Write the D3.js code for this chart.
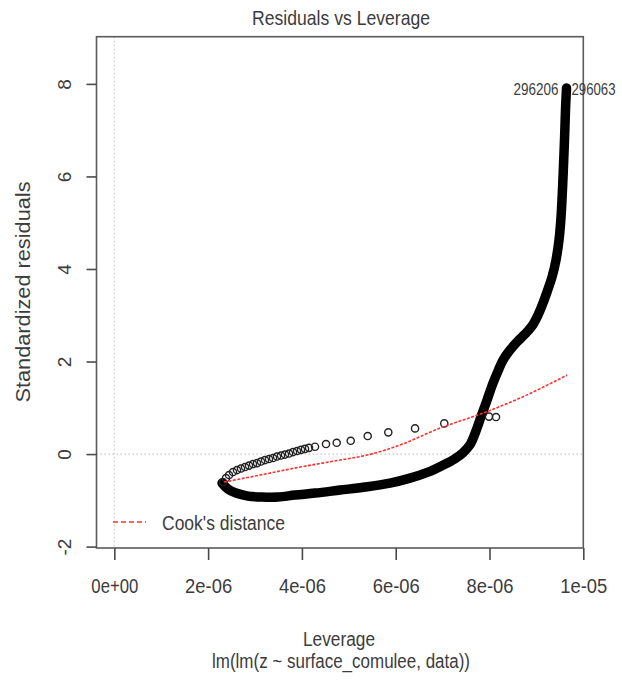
<!DOCTYPE html>
<html><head><meta charset="utf-8">
<script src="https://cdn.jsdelivr.net/npm/d3@7"></script>
<style>
body{margin:0;background:#fff}
text{font-family:"Liberation Sans",Arial,Helvetica,sans-serif;fill:#3c3c3c}
</style>
</head><body><svg id="c" width="622" height="682"></svg>
<script>
// ---- data (leverage in units of 1e-6) ----
const upperLev = [2.318,2.381,2.446,2.531,2.616,2.701,2.787,2.872,2.957,3.042,3.128,3.213,3.298,3.384,3.469,3.554,3.639,3.725,3.810,3.896,3.981,4.066,4.151,
                  4.279,4.514,4.742,5.041,5.403,5.842,6.412,7.036,7.989,8.139];
const upperRes = [-0.605,-0.519,-0.454,-0.389,-0.346,-0.313,-0.281,-0.249,-0.216,-0.195,-0.162,-0.130,-0.108,-0.086,-0.054,-0.032,-0.011,0.011,0.043,0.065,0.091,0.112,0.134,
                  0.158,0.216,0.244,0.287,0.389,0.469,0.555,0.663,0.810,0.800];
const lowerLev = [2.296,2.424,2.595,2.851,3.149,3.490,3.853,4.279,4.812,5.345,5.878,6.305,6.689,6.987,7.264,7.435,7.584,7.712,7.819,7.947,8.075,8.181,8.288,8.437,8.586,8.757,8.906,9.034,9.141,9.248,9.333,9.418,9.482,9.525,9.568,9.599,9.620,9.642];
const lowerRes = [-0.627,-0.756,-0.843,-0.908,-0.929,-0.929,-0.886,-0.843,-0.778,-0.713,-0.627,-0.519,-0.389,-0.250,-0.100,0.030,0.200,0.500,0.810,1.167,1.534,1.794,2.032,2.248,2.421,2.594,2.766,3.004,3.263,3.566,3.825,4.193,4.625,5.122,5.987,6.786,7.435,7.911];
const cookLev = [2.339,3.107,3.959,4.812,5.388,6.092,6.945,7.862,8.651,9.653];
const cookRes = [-0.605,-0.454,-0.281,-0.130,-0.022,0.195,0.562,0.886,1.210,1.707];
const xTicks = [0,2,4,6,8,10];
const xTickLabels = ["0e+00","2e-06","4e-06","6e-06","8e-06","1e-05"];
const yTicks = [-2,0,2,4,6,8];
const pointLabels = ["296206","296063"];
const labelLev = 9.642, labelRes = 7.911;

// ---- layout ----
const L=96.5, R=583.3, T=36.7, B=548;
const svg = d3.select("#c");
const x = d3.scaleLinear().domain([-0.38,10]).range([L,R]);
const y = d3.scaleLinear().domain([-2.03,9.02]).range([B,T]);
const grey="#3c3c3c";

// reference dotted lines
svg.append("line").attr("x1",x(0)).attr("x2",x(0)).attr("y1",T).attr("y2",B)
  .attr("stroke","#c8c8c8").attr("stroke-width",1.2).attr("stroke-dasharray","1.5,2.5");
svg.append("line").attr("x1",L).attr("x2",R).attr("y1",y(0)).attr("y2",y(0))
  .attr("stroke","#c8c8c8").attr("stroke-width",1.2).attr("stroke-dasharray","1.5,2.5");

// dense lower branch
const lowerPts = lowerLev.map((d,i)=>[d,lowerRes[i]]);
svg.append("path").datum(lowerPts)
  .attr("d",d3.line().x(d=>x(d[0])).y(d=>y(d[1])).curve(d3.curveCatmullRom))
  .attr("fill","none").attr("stroke","#000").attr("stroke-width",9.5)
  .attr("stroke-linecap","round").attr("stroke-linejoin","round");

// upper branch circles
svg.append("g").selectAll("circle").data(upperLev.map((d,i)=>[d,upperRes[i]])).join("circle")
  .attr("cx",d=>x(d[0])).attr("cy",d=>y(d[1])).attr("r",3.6)
  .attr("fill","none").attr("stroke","#222").attr("stroke-width",1.4);

// Cook's / smoother red line
svg.append("path").datum(cookLev.map((d,i)=>[d,cookRes[i]]))
  .attr("d",d3.line().x(d=>x(d[0])).y(d=>y(d[1])).curve(d3.curveMonotoneX))
  .attr("fill","none").attr("stroke","#ff3030").attr("stroke-width",1.6)
  .attr("stroke-dasharray","3,1.5");

// box
svg.append("rect").attr("x",L).attr("y",T).attr("width",R-L).attr("height",B-T)
  .attr("fill","none").attr("stroke","#5a5a5a").attr("stroke-width",1.6);

// x axis
const gx = svg.append("g").attr("transform",`translate(0,${B})`)
  .call(d3.axisBottom(x).tickValues(xTicks).tickSize(12).tickFormat((d,i)=>xTickLabels[i]));
gx.select(".domain").remove();
gx.selectAll("line").attr("stroke","#4a4a4a").attr("stroke-width",1.6);
gx.selectAll("text").attr("y",null).attr("dy",null).attr("transform","translate(0,45)")
  .attr("font-size",20).style("fill",grey)
  .attr("textLength",47).attr("lengthAdjust","spacingAndGlyphs");

// y axis
const gy = svg.append("g").attr("transform",`translate(${L},0)`)
  .call(d3.axisLeft(y).tickValues(yTicks).tickSize(10).tickFormat(d=>d));
gy.select(".domain").remove();
gy.selectAll("line").attr("stroke","#4a4a4a").attr("stroke-width",1.6);
gy.selectAll("text").attr("x",null).attr("dy",null)
  .attr("transform","translate(-26,0) rotate(-90)")
  .attr("text-anchor","middle").attr("font-size",19).style("fill",grey);

// titles
svg.append("text").attr("x",341).attr("y",25).attr("text-anchor","middle")
  .attr("font-size",21).attr("textLength",178).attr("lengthAdjust","spacingAndGlyphs")
  .text("Residuals vs Leverage");
svg.append("text").attr("x",339).attr("y",646).attr("text-anchor","middle")
  .attr("font-size",20).attr("textLength",72).attr("lengthAdjust","spacingAndGlyphs")
  .text("Leverage");
svg.append("text").attr("x",341).attr("y",668).attr("text-anchor","middle")
  .attr("font-size",20).attr("textLength",258).attr("lengthAdjust","spacingAndGlyphs")
  .text("lm(lm(z ~ surface_comulee, data))");
svg.append("text").attr("transform","translate(30,292) rotate(-90)").attr("text-anchor","middle")
  .attr("font-size",20).attr("textLength",221).attr("lengthAdjust","spacingAndGlyphs")
  .text("Standardized residuals");

// point labels
svg.append("text").attr("x",x(labelLev)-8).attr("y",y(labelRes)+7).attr("text-anchor","end")
  .attr("font-size",17).attr("textLength",45).attr("lengthAdjust","spacingAndGlyphs").text(pointLabels[0]);
svg.append("text").attr("x",x(labelLev)+5).attr("y",y(labelRes)+7).attr("text-anchor","start")
  .attr("font-size",17).attr("textLength",44).attr("lengthAdjust","spacingAndGlyphs").text(pointLabels[1]);

// legend
svg.append("line").attr("x1",113).attr("x2",146).attr("y1",522).attr("y2",522)
  .attr("stroke","#ff3030").attr("stroke-width",1.6).attr("stroke-dasharray","5,3");
svg.append("text").attr("x",162).attr("y",530).attr("font-size",20)
  .attr("textLength",123).attr("lengthAdjust","spacingAndGlyphs").text("Cook's distance");
</script></body></html>
